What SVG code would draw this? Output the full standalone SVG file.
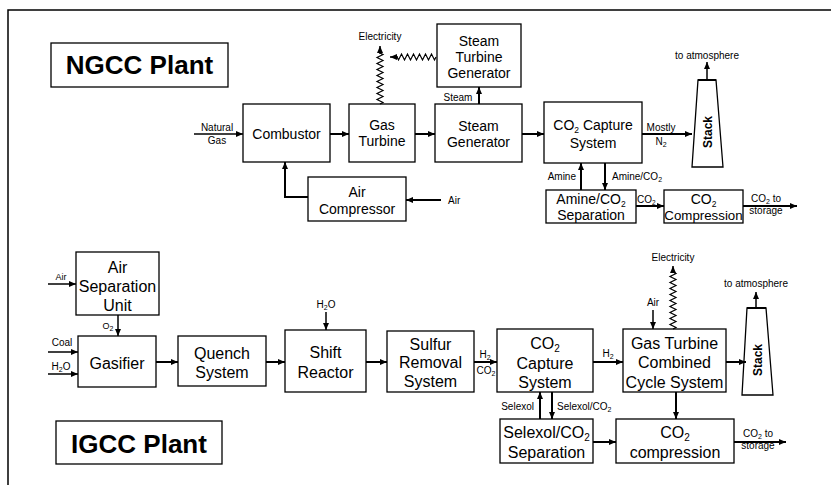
<svg xmlns="http://www.w3.org/2000/svg" width="831" height="485" viewBox="0 0 831 485">
<style>
text{font-family:"Liberation Sans",Arial,sans-serif;fill:#000}
.box{fill:#fff;stroke:#000;stroke-width:1.3}
.t14{font-size:14px;text-anchor:middle}
.t16{font-size:16px;text-anchor:middle}
.lab{font-size:10px}
.mid{text-anchor:middle}
.end{text-anchor:end}
.title{font-size:26px;font-weight:bold;text-anchor:middle}
.stk{font-size:12px;font-weight:bold;text-anchor:middle}
.c{fill:none;stroke:#000;stroke-width:2}
.c1{fill:none;stroke:#000;stroke-width:1.5}
.w{fill:none;stroke:#000;stroke-width:1.2}
</style>
<defs>
<marker id="ah" markerWidth="7" markerHeight="6" refX="7" refY="3" orient="auto" markerUnits="userSpaceOnUse"><path d="M0,0 L7,3 L0,6 z" fill="#000"/></marker>
</defs>
<rect width="831" height="485" fill="#fff"/>
<path d="M8,485 L8,10 L831,10" fill="none" stroke="#000" stroke-width="1.5"/>

<g id="ngcc-title"><rect class="box" x="51" y="43" width="177" height="44"/><text class="title" x="139.5" y="74">NGCC Plant</text></g>
<g id="combustor"><rect class="box" x="243" y="104" width="87" height="58"/><text class="t14" x="286.5" y="139">Combustor</text></g>
<g id="gas-turbine"><rect class="box" x="349" y="104" width="66" height="58"/><text class="t14" x="382" y="130">Gas</text><text class="t14" x="382" y="146">Turbine</text></g>
<g id="air-compressor"><rect class="box" x="308" y="177" width="98" height="44"/><text class="t14" x="357" y="197">Air</text><text class="t14" x="357" y="214">Compressor</text></g>
<g id="steam-turbine-generator"><rect class="box" x="437" y="24" width="84" height="63"/><text class="t14" x="479" y="46">Steam</text><text class="t14" x="479" y="62">Turbine</text><text class="t14" x="479" y="78">Generator</text></g>
<g id="steam-generator"><rect class="box" x="435" y="104" width="87" height="58"/><text class="t14" x="478.5" y="131">Steam</text><text class="t14" x="478.5" y="147">Generator</text></g>
<g id="ngcc-co2-capture"><rect class="box" x="544" y="102" width="98" height="61"/><text class="t14" x="593" y="130">CO<tspan font-size="8.5" dy="2.5">2</tspan><tspan dy="-2.5"> Capture</tspan></text><text class="t14" x="593" y="148">System</text></g>
<g id="amine-separation"><rect class="box" x="546" y="190" width="90" height="33"/><text class="t14" x="591" y="204">Amine/CO<tspan font-size="8.5" dy="2.5">2</tspan></text><text class="t14" x="591" y="220">Separation</text></g>
<g id="ngcc-co2-compression"><rect class="box" x="664" y="190" width="79" height="33"/><text class="t14" x="703.5" y="204">CO<tspan font-size="8.5" dy="2.5">2</tspan></text><text class="t14" x="703.5" y="220" style="font-size:13.3px">Compression</text></g>
<g id="ngcc-stack"><polygon points="698,80 716,80 723,167 692,167" fill="#fff" stroke="#000" stroke-width="1.3"/><line x1="698" y1="80" x2="716" y2="80" stroke="#000" stroke-width="2"/><text class="stk" transform="translate(712,132) rotate(-90)">Stack</text></g>

<g id="igcc-title"><rect class="box" x="56" y="421" width="166" height="43"/><text class="title" x="139" y="453">IGCC Plant</text></g>
<g id="air-separation-unit"><rect class="box" x="76" y="252" width="83" height="63"/><text class="t16" x="117.5" y="273">Air</text><text class="t16" x="117.5" y="292">Separation</text><text class="t16" x="117.5" y="311">Unit</text></g>
<g id="gasifier"><rect class="box" x="78" y="336" width="78" height="51"/><text class="t16" x="117" y="369">Gasifier</text></g>
<g id="quench-system"><rect class="box" x="178" y="336" width="88" height="50"/><text class="t16" x="222" y="359">Quench</text><text class="t16" x="222" y="378">System</text></g>
<g id="shift-reactor"><rect class="box" x="285" y="330" width="81" height="62"/><text class="t16" x="325.5" y="358">Shift</text><text class="t16" x="325.5" y="378">Reactor</text></g>
<g id="sulfur-removal"><rect class="box" x="387" y="331" width="87" height="61"/><text class="t16" x="430.5" y="350">Sulfur</text><text class="t16" x="430.5" y="368">Removal</text><text class="t16" x="430.5" y="387">System</text></g>
<g id="igcc-co2-capture"><rect class="box" x="497" y="329" width="96" height="63"/><text class="t16" x="545" y="349">CO<tspan font-size="10" dy="3">2</tspan></text><text class="t16" x="545" y="369">Capture</text><text class="t16" x="545" y="388">System</text></g>
<g id="gtcc"><rect class="box" x="623" y="329" width="103" height="63"/><text class="t16" x="674.5" y="349">Gas Turbine</text><text class="t16" x="674.5" y="368">Combined</text><text class="t16" x="674.5" y="388">Cycle System</text></g>
<g id="selexol-separation"><rect class="box" x="500" y="419" width="93" height="44"/><text class="t16" x="546.5" y="438">Selexol/CO<tspan font-size="10" dy="3">2</tspan></text><text class="t16" x="546.5" y="458">Separation</text></g>
<g id="igcc-co2-compression"><rect class="box" x="616" y="419" width="118" height="44"/><text class="t16" x="675" y="438">CO<tspan font-size="10" dy="3">2</tspan></text><text class="t16" x="675" y="458">compression</text></g>
<g id="igcc-stack"><polygon points="747,308 766,308 773,395 742,395" fill="#fff" stroke="#000" stroke-width="1.3"/><line x1="747" y1="308" x2="766" y2="308" stroke="#000" stroke-width="2"/><text class="stk" transform="translate(762,360) rotate(-90)">Stack</text></g>

<g id="connectors">
<line class="c1" x1="194" y1="134" x2="243" y2="134" marker-end="url(#ah)"/>
<line class="c" x1="330" y1="134" x2="349" y2="134" marker-end="url(#ah)"/>
<line class="c" x1="415" y1="134" x2="435" y2="134" marker-end="url(#ah)"/>
<line class="c" x1="522" y1="134" x2="544" y2="134" marker-end="url(#ah)"/>
<line class="c" x1="479" y1="104" x2="479" y2="87" marker-end="url(#ah)"/>
<path class="c" d="M308,197 L285,197 L285,162" marker-end="url(#ah)"/>
<line class="c" x1="441" y1="200" x2="406" y2="200" marker-end="url(#ah)"/>
<line class="c" x1="581" y1="190" x2="581" y2="163" marker-end="url(#ah)"/>
<line class="c" x1="605" y1="163" x2="605" y2="190" marker-end="url(#ah)"/>
<line class="c" x1="636" y1="206" x2="664" y2="206" marker-end="url(#ah)"/>
<line class="c" x1="743" y1="206" x2="797" y2="206" marker-end="url(#ah)"/>
<line class="c" x1="642" y1="134" x2="692" y2="134" marker-end="url(#ah)"/>
<line class="c1" x1="707" y1="80" x2="707" y2="62" marker-end="url(#ah)"/>
<path class="w" d="M380,104 l3,-1.5 l-6,-3 l6,-3 l-6,-3 l6,-3 l-6,-3 l6,-3 l-6,-3 l6,-3 l-6,-3 l6,-3 l-6,-3 l6,-3 l-6,-3 l6,-3 l-6,-3 l6,-3 l-3,-1.5"/>
<line class="c1" x1="380" y1="54" x2="380" y2="46" marker-end="url(#ah)"/>
<path class="w" d="M436,57 l-1.5,3 l-3,-6 l-3,6 l-3,-6 l-3,6 l-3,-6 l-3,6 l-3,-6 l-3,6 l-3,-6 l-3,6 l-3,-6 l-3,6 l-1.5,-3"/>
<line class="c1" x1="398" y1="57" x2="390" y2="57" marker-end="url(#ah)"/>

<line class="c1" x1="48" y1="284" x2="76" y2="284" marker-end="url(#ah)"/>
<line class="c1" x1="118" y1="315" x2="118" y2="336" marker-end="url(#ah)"/>
<line class="c1" x1="48" y1="352" x2="78" y2="352" marker-end="url(#ah)"/>
<line class="c1" x1="48" y1="374" x2="78" y2="374" marker-end="url(#ah)"/>
<line class="c" x1="156" y1="362" x2="178" y2="362" marker-end="url(#ah)"/>
<line class="c" x1="266" y1="362" x2="285" y2="362" marker-end="url(#ah)"/>
<line class="c1" x1="326" y1="312" x2="326" y2="330" marker-end="url(#ah)"/>
<line class="c" x1="366" y1="362" x2="387" y2="362" marker-end="url(#ah)"/>
<line class="c" x1="474" y1="362" x2="497" y2="362" marker-end="url(#ah)"/>
<line class="c" x1="593" y1="362" x2="623" y2="362" marker-end="url(#ah)"/>
<line class="c" x1="726" y1="362" x2="746" y2="362" marker-end="url(#ah)"/>
<line class="c1" x1="756" y1="308" x2="756" y2="292" marker-end="url(#ah)"/>
<line class="c1" x1="653" y1="310" x2="653" y2="329" marker-end="url(#ah)"/>
<path class="w" d="M673,329 l3,-1.5 l-6,-3 l6,-3 l-6,-3 l6,-3 l-6,-3 l6,-3 l-6,-3 l6,-3 l-6,-3 l6,-3 l-6,-3 l6,-3 l-6,-3 l6,-3 l-6,-3 l6,-3 l-6,-3 l6,-3 l-3,-1.5"/>
<line class="c1" x1="673" y1="273" x2="673" y2="266" marker-end="url(#ah)"/>
<line class="c" x1="676" y1="392" x2="676" y2="419" marker-end="url(#ah)"/>
<line class="c" x1="540" y1="419" x2="540" y2="392" marker-end="url(#ah)"/>
<line class="c" x1="552" y1="392" x2="552" y2="419" marker-end="url(#ah)"/>
<line class="c" x1="593" y1="442" x2="616" y2="442" marker-end="url(#ah)"/>
<line class="c" x1="734" y1="442" x2="786" y2="442" marker-end="url(#ah)"/>
</g>

<g id="labels">
<text class="lab mid" x="380" y="40">Electricity</text>
<text class="lab mid" x="217" y="131">Natural</text>
<text class="lab mid" x="217" y="144">Gas</text>
<text class="lab mid" x="458" y="101">Steam</text>
<text class="lab mid" x="661" y="131">Mostly</text>
<text class="lab mid" x="661" y="145">N<tspan font-size="7" dy="2">2</tspan></text>
<text class="lab mid" x="707" y="59">to atmosphere</text>
<text class="lab end" x="576" y="180">Amine</text>
<text class="lab" x="612" y="180">Amine/CO<tspan font-size="7" dy="2">2</tspan></text>
<text class="lab" x="637" y="203">CO<tspan font-size="6.5" dy="2">2</tspan></text>
<text class="lab mid" x="766" y="202">CO<tspan font-size="7" dy="2">2</tspan><tspan dy="-2"> to</tspan></text>
<text class="lab mid" x="766" y="214">storage</text>
<text class="lab" x="448" y="204">Air</text>

<text class="lab mid" x="61" y="280" style="font-size:9px">Air</text>
<text class="lab mid" x="108" y="329" style="font-size:9px">O<tspan font-size="7" dy="2">2</tspan></text>
<text class="lab mid" x="62" y="346">Coal</text>
<text class="lab mid" x="61" y="370">H<tspan font-size="7" dy="2">2</tspan><tspan dy="-2">O</tspan></text>
<text class="lab mid" x="326" y="308">H<tspan font-size="7" dy="2">2</tspan><tspan dy="-2">O</tspan></text>
<text class="lab mid" x="485" y="358">H<tspan font-size="7" dy="2">2</tspan></text>
<text class="lab mid" x="486" y="374">CO<tspan font-size="7" dy="2">2</tspan></text>
<text class="lab mid" x="608" y="357">H<tspan font-size="7" dy="2">2</tspan></text>
<text class="lab mid" x="673" y="261">Electricity</text>
<text class="lab mid" x="653" y="306">Air</text>
<text class="lab mid" x="756" y="287">to atmosphere</text>
<text class="lab end" x="534" y="410">Selexol</text>
<text class="lab" x="557" y="410">Selexol/CO<tspan font-size="7" dy="2">2</tspan></text>
<text class="lab mid" x="758" y="437">CO<tspan font-size="7" dy="2">2</tspan><tspan dy="-2"> to</tspan></text>
<text class="lab mid" x="758" y="449">storage</text>
</g>
</svg>
